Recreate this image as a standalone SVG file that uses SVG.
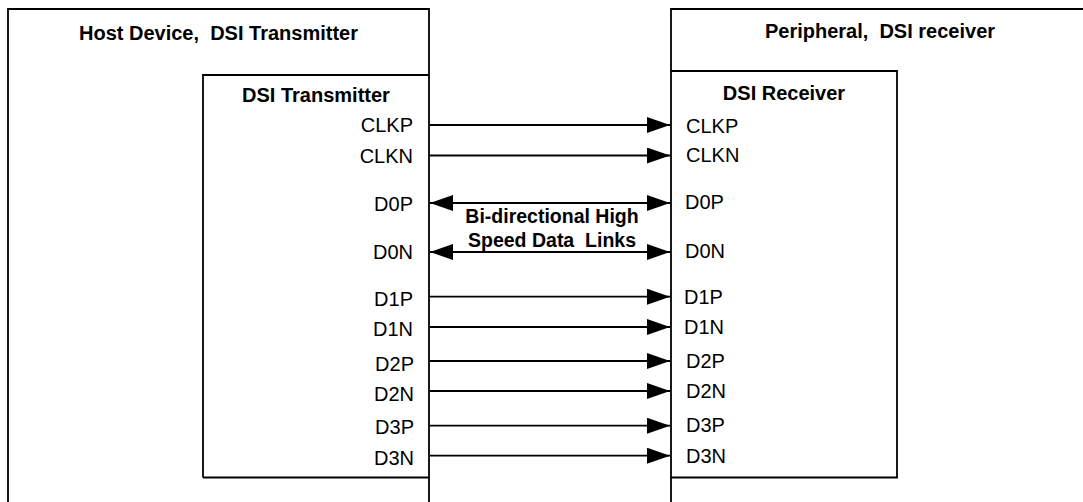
<svg xmlns="http://www.w3.org/2000/svg" width="1083" height="502" viewBox="0 0 1083 502">
<style>
.box{fill:none;stroke:#000;stroke-width:1.8}
.title{font-family:"Liberation Sans",Arial,sans-serif;font-size:20px;font-weight:bold;fill:#000;text-anchor:middle;white-space:pre}
.pin{font-family:"Liberation Sans",Arial,sans-serif;font-size:20px;fill:#000}
.pl{text-anchor:end}
.note{font-family:"Liberation Sans",Arial,sans-serif;font-size:19.5px;font-weight:bold;fill:#000;text-anchor:middle;white-space:pre}
.wire{stroke:#000;stroke-width:1.8;fill:none;marker-end:url(#ah)}
.bi{marker-start:url(#ah)}
</style>
<defs>
<marker id="ah" markerUnits="userSpaceOnUse" markerWidth="24" markerHeight="17" refX="23" refY="8" orient="auto-start-reverse" viewBox="0 0 24 17">
<path d="M0,0 L23,8 L0,16 z" fill="#000"/>
</marker>
</defs>
<rect width="1083" height="502" fill="#fff"/>
<g id="host">
<path class="box" d="M8,520 V9 H429 V520"/>
<text class="title" x="218.5" y="40" xml:space="preserve">Host Device,  DSI Transmitter</text>
</g>
<g id="tx">
<path class="box" d="M203,477.5 V75 H429"/>
<text class="title" x="316" y="102">DSI Transmitter</text>
<text class="pin pl" x="413" y="132">CLKP</text>
<text class="pin pl" x="413" y="162.5">CLKN</text>
<text class="pin pl" x="413" y="211">D0P</text>
<text class="pin pl" x="413" y="259">D0N</text>
<text class="pin pl" x="413" y="305.5">D1P</text>
<text class="pin pl" x="413" y="336">D1N</text>
<text class="pin pl" x="414" y="371">D2P</text>
<text class="pin pl" x="414" y="401">D2N</text>
<text class="pin pl" x="414" y="434">D3P</text>
<text class="pin pl" x="414" y="464.5">D3N</text>
<path class="box" d="M203,477.5 H429"/>
</g>
<g id="peripheral">
<path class="box" d="M671,520 V9 H1095"/>
<text class="title" x="880" y="37.5" xml:space="preserve">Peripheral,  DSI receiver</text>
</g>
<g id="rx">
<path class="box" d="M671,71 H897 V477.5 H671"/>
<text class="title" x="784" y="100">DSI Receiver</text>
<text class="pin" x="686" y="132.5">CLKP</text>
<text class="pin" x="686" y="162">CLKN</text>
<text class="pin" x="685" y="209">D0P</text>
<text class="pin" x="685" y="258">D0N</text>
<text class="pin" x="684" y="304">D1P</text>
<text class="pin" x="684" y="334">D1N</text>
<text class="pin" x="686" y="368">D2P</text>
<text class="pin" x="686" y="397.5">D2N</text>
<text class="pin" x="686" y="431.5">D3P</text>
<text class="pin" x="686" y="462.5">D3N</text>
</g>
<g id="connectors">
<line class="wire" x1="430" y1="125" x2="670" y2="125"/>
<line class="wire" x1="430" y1="155.5" x2="670" y2="155.5"/>
<line class="wire bi" x1="430" y1="203" x2="670" y2="203"/>
<line class="wire bi" x1="430" y1="252" x2="670" y2="252"/>
<line class="wire" x1="430" y1="296.7" x2="670" y2="296.7"/>
<line class="wire" x1="430" y1="327" x2="670" y2="327"/>
<line class="wire" x1="430" y1="361" x2="670" y2="361"/>
<line class="wire" x1="430" y1="391" x2="670" y2="391"/>
<line class="wire" x1="430" y1="425.7" x2="670" y2="425.7"/>
<line class="wire" x1="430" y1="455.7" x2="670" y2="455.7"/>
<text class="note" x="552" y="222.5">Bi-directional High</text>
<text class="note" x="552" y="246.5" xml:space="preserve">Speed Data  Links</text>
</g>
</svg>
